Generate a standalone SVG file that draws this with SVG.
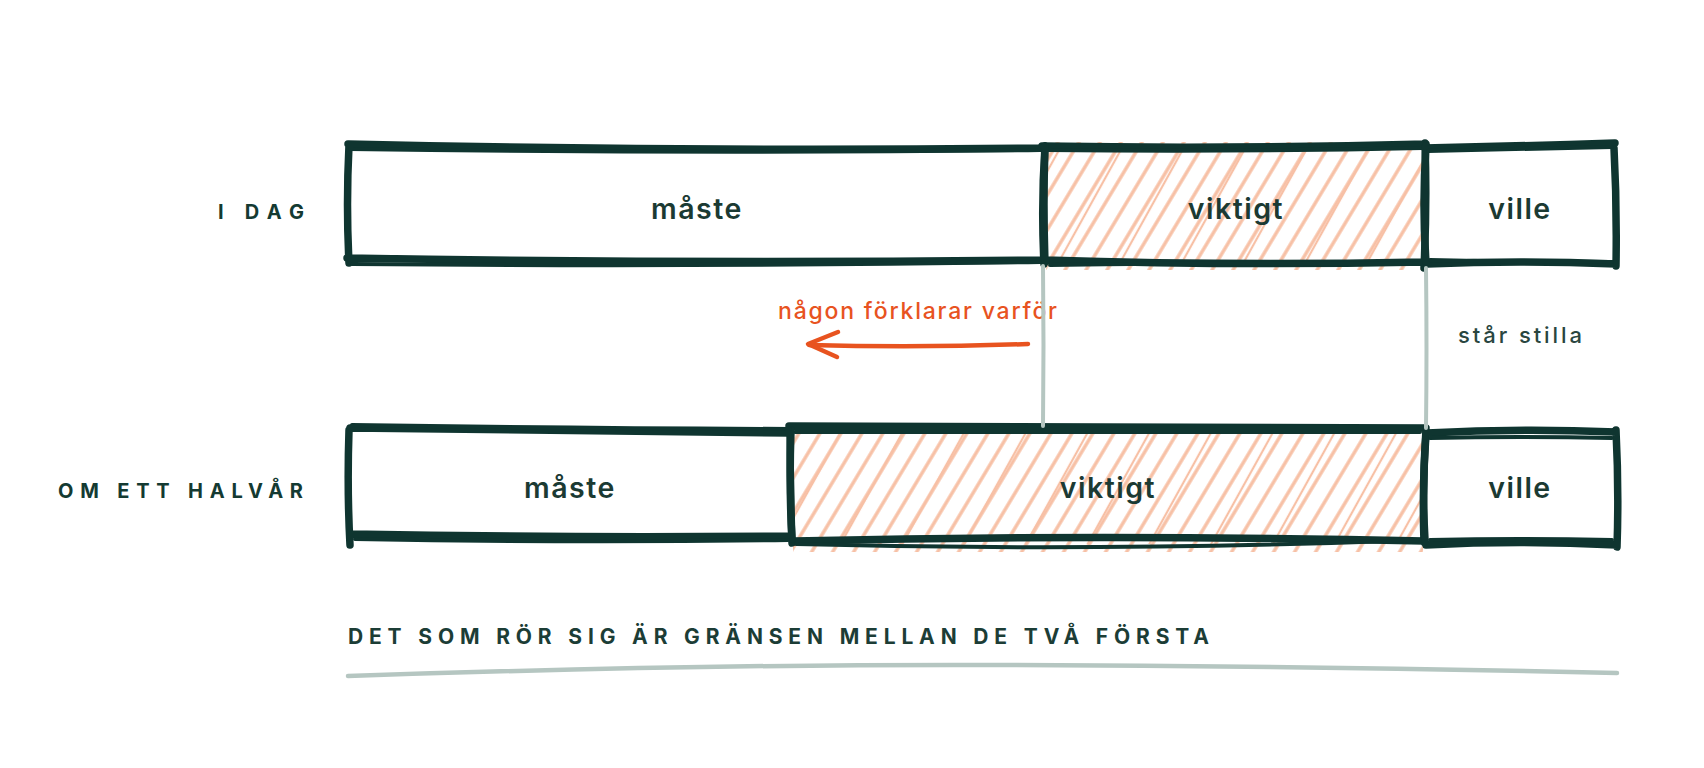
<svg xmlns="http://www.w3.org/2000/svg" width="1704" height="768" viewBox="0 0 1704 768">
  <style>
    .edge { fill: none; stroke: #0f3530; stroke-width: 7.5; stroke-linecap: round; stroke-linejoin: round; }
    .edge2 { fill: none; stroke: #0f3530; stroke-width: 4; stroke-linecap: round; }
    .cell { font-family: Inter, "Liberation Sans", sans-serif; font-weight: 600; font-size: 28.5px; fill: #1b3a33; text-anchor: middle; letter-spacing: 1.5px; }
    .rowlabel { font-family: Inter, "Liberation Sans", sans-serif; font-weight: 700; font-size: 20px; fill: #143a32; }
    .footer { font-family: Inter, "Liberation Sans", sans-serif; font-weight: 700; font-size: 21px; fill: #1c3d36; }
    .note { font-family: Inter, "Liberation Sans", sans-serif; font-weight: 500; font-size: 22px; fill: #2a4640; }
    .why { font-family: Inter, "Liberation Sans", sans-serif; font-weight: 500; font-size: 23px; fill: #e8531f; }
    .guide { fill: none; stroke: #b5c6c1; stroke-width: 4; stroke-linecap: round; }
    .arrow { fill: none; stroke: #e8531f; stroke-width: 4.5; stroke-linecap: round; stroke-linejoin: round; }
  </style>
  <defs>
    <pattern id="hatch" patternUnits="userSpaceOnUse" width="18" height="40" patternTransform="rotate(31)">
      <line x1="8" y1="-2" x2="8" y2="42" stroke="#f7c0a5" stroke-width="3.4"/>
    </pattern>
    <pattern id="hatch2" patternUnits="userSpaceOnUse" width="54" height="60" patternTransform="rotate(29) translate(7 0)">
      <line x1="20" y1="-2" x2="20" y2="62" stroke="#f7c0a5" stroke-width="2.2"/>
    </pattern>
  </defs>

  <rect width="1704" height="768" fill="#ffffff"/>

  <!-- row labels -->
  <g id="label-idag">
    <text class="rowlabel" x="218" y="219" textLength="86" lengthAdjust="spacing">I DAG</text>
  </g>
  <g id="label-halvar">
    <text class="rowlabel" x="58" y="498" textLength="245" lengthAdjust="spacing">OM ETT HALVÅR</text>
  </g>

  <!-- TOP ROW -->
  <g id="today-viktigt">
    <rect x="1046" y="142" width="378" height="128" fill="url(#hatch)"/>
    <rect x="1048" y="150" width="374" height="112" fill="url(#hatch2)"/>
    <path class="edge" d="M1042,146 Q1230,149 1426,144 M1425,143 Q1427,205 1424,268 M1425,262 Q1230,266 1045,260 M1044,264 Q1041,205 1045,146"/>
    <path class="edge2" d="M1046,150 Q1240,152 1422,148 M1050,265 Q1230,262 1424,264"/>
    <text class="cell" x="1236" y="219">viktigt</text>
  </g>

  <g id="today-maste">
    <path class="edge" d="M348,144 Q700,152 1044,148 M1045,146 Q1043,205 1045,262 M1046,260 Q700,264 347,258 M349,263 Q346,205 349,145"/>
    <path class="edge2" d="M352,264 Q700,267 1040,262 M350,149 Q700,154 1040,150"/>
    <text class="cell" x="697" y="219">måste</text>
  </g>

  <g id="today-ville">
    <path class="edge" d="M1425,148 Q1520,146 1615,143 M1614,148 Q1617,205 1616,266 M1616,264 Q1520,260 1427,264 M1426,146 Q1422,205 1426,262"/>
    <path class="edge2" d="M1428,151 Q1520,149 1612,147 M1430,260 Q1520,262 1612,262"/>
    <text class="cell" x="1520" y="219">ville</text>
  </g>

  <!-- BOTTOM ROW -->
  <g id="later-viktigt">
    <rect x="793" y="428" width="630" height="124" fill="url(#hatch)"/>
    <rect x="795" y="432" width="626" height="112" fill="url(#hatch2)"/>
    <path class="edge" d="M789,426 Q1100,426 1426,428 M1426,430 Q1422,490 1424,542 M1424,541 Q1100,534 794,541 M792,543 Q790,485 790,427"/>
    <path class="edge2" d="M796,544 Q1100,552 1420,540 M795,432 Q1100,431 1420,432"/>
    <text class="cell" x="1108" y="498">viktigt</text>
  </g>

  <g id="later-maste">
    <path class="edge" d="M350,428 Q560,431 790,433 M791,430 Q789,490 792,539 M790,536 Q570,538 351,534 M349,430 Q347,490 350,545"/>
    <path class="edge2" d="M352,425 Q560,428 790,429 M355,539 Q570,543 788,540"/>
    <text class="cell" x="570" y="498">måste</text>
  </g>

  <g id="later-ville">
    <path class="edge" d="M1427,433 Q1520,428 1616,432 M1616,430 Q1619,490 1617,547 M1617,545 Q1520,540 1426,545 M1426,433 Q1422,490 1425,540"/>
    <path class="edge2" d="M1430,438 Q1520,436 1612,438 M1430,540 Q1520,538 1612,540"/>
    <text class="cell" x="1520" y="498">ville</text>
  </g>

  <!-- annotations -->
  <g id="note-star-stilla">
    <text class="note" x="1458" y="343" textLength="124" lengthAdjust="spacing">står stilla</text>
  </g>
  <g id="note-forklarar">
    <text class="why" x="778" y="319" textLength="279" lengthAdjust="spacing">någon förklarar varför</text>
  </g>

  <!-- connectors -->
  <g id="connectors">
    <path class="guide" d="M1043,266 Q1044,345 1043,426"/>
    <path class="guide" d="M1426,268 Q1427,350 1426,428"/>
    <path class="arrow" d="M1028,344 Q920,348 809,345"/>
    <path class="arrow" d="M838,332 L808,344 L837,357"/>
  </g>

  <!-- footer -->
  <g id="footer">
    <text class="footer" x="348" y="644" textLength="861" lengthAdjust="spacing">DET SOM RÖR SIG ÄR GRÄNSEN MELLAN DE TVÅ FÖRSTA</text>
    <path class="guide" style="stroke-width:4.5" d="M348,676 Q700,664 1000,665 T1617,673"/>
  </g>
</svg>
